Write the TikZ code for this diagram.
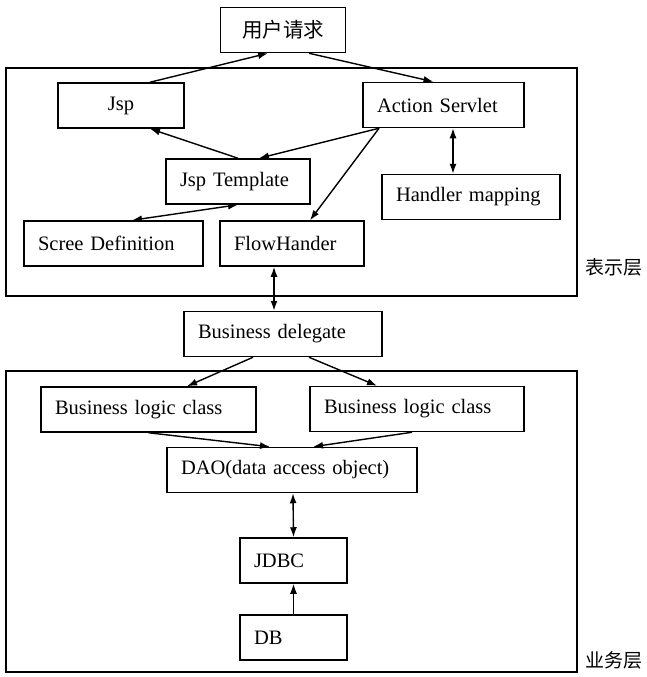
\documentclass[tikz,border=0pt]{standalone}
\usepackage{fontspec}
\setmainfont{Liberation Serif}
\newfontfamily\cjk{Noto Sans CJK SC}
\usetikzlibrary{arrows.meta}

\begin{document}
\begin{tikzpicture}[x=1pt, y=-1pt,
    >={Latex[length=10pt,width=7pt]},
    unit/.style={draw, line width=1.5pt, minimum height=45pt, inner xsep=14pt,
        inner ysep=0pt, text width=#1, align=left, font=\fontsize{20.5}{24}\selectfont},
    layer/.style={draw, line width=1.1pt},
    link/.style={line width=1.4pt},
    tag/.style={font=\fontsize{19}{22}\selectfont\cjk}]
    \useasboundingbox (0,0) rectangle (646,677);

    % Draw the two layer frames
    \draw[layer] (6,68) rectangle (577,296);
    \draw[layer] (6,371) rectangle (577,672);
    \node[tag] (pres) at (614,267) {表示层};
    \node[tag] (biz) at (614,660) {业务层};

    % Draw the boxes of the presentation layer
    \node[unit=97pt, align=center] (req) at (283,30) {\cjk 用户请求};
    \node[unit=98pt, align=center] (jsp) at (121,105.5) {Jsp};
    \node[unit=133pt] (servlet) at (443.5,105) {Action Servlet};
    \node[unit=116pt] (tmpl) at (238,181.5) {Jsp Template};
    \node[unit=150pt] (hmap) at (471,197) {Handler mapping};
    \node[unit=151pt] (scree) at (113.5,243.5) {Scree Definition};
    \node[unit=116pt] (flow) at (292,243.5) {FlowHander};

    % Draw the boxes of the business layer
    \node[unit=170pt] (deleg) at (283,334) {Business delegate};
    \node[unit=187pt] (blc1) at (148.5,409.5) {Business logic class};
    \node[unit=186pt] (blc2) at (417,409) {Business logic class};
    \node[unit=222pt] (dao) at (292,470) {DAO(data access object)};
    \node[unit=79pt] (jdbc) at (293.5,560.5) {JDBC};
    \node[unit=79pt] (db) at (293.5,637.5) {DB};

    % Draw the arrows of the presentation layer
    \draw[link,->] ([xshift=29pt]jsp.north) -- ([xshift=-15pt]req.south);
    \draw[link,->] ([xshift=26pt]req.south) -- ([xshift=-10pt]servlet.north);
    \draw[link,->] (tmpl.north) -- ([xshift=29pt]jsp.south);
    \draw[link,->] ([xshift=-64.5pt]servlet.south) -- ([xshift=21pt]tmpl.north);
    \draw[link,->] ([xshift=-64.5pt]servlet.south) -- ([xshift=18pt]flow.north);
    \draw[link,<->] ([xshift=9.5pt]servlet.south) -- ([xshift=-18pt]hmap.north);
    \draw[link,<->] (tmpl.south) -- ([xshift=18.5pt]scree.north);
    \draw[link,<->] ([xshift=-18pt]flow.south) -- ([xshift=-9pt]deleg.north);

    % Draw the arrows of the business layer
    \draw[link,->] ([xshift=-30pt]deleg.south) -- ([xshift=38.5pt]blc1.north);
    \draw[link,->] ([xshift=26pt]deleg.south) -- ([xshift=-40pt]blc2.north);
    \draw[link,->] (blc1.south) -- ([xshift=-22pt]dao.north);
    \draw[link,->] ([xshift=-5pt]blc2.south) -- ([xshift=21pt]dao.north);
    \draw[link,<->] ([xshift=1pt]dao.south) -- (jdbc.north);
    \draw[link,->] (db.north) -- (jdbc.south);
\end{tikzpicture}
\end{document}
